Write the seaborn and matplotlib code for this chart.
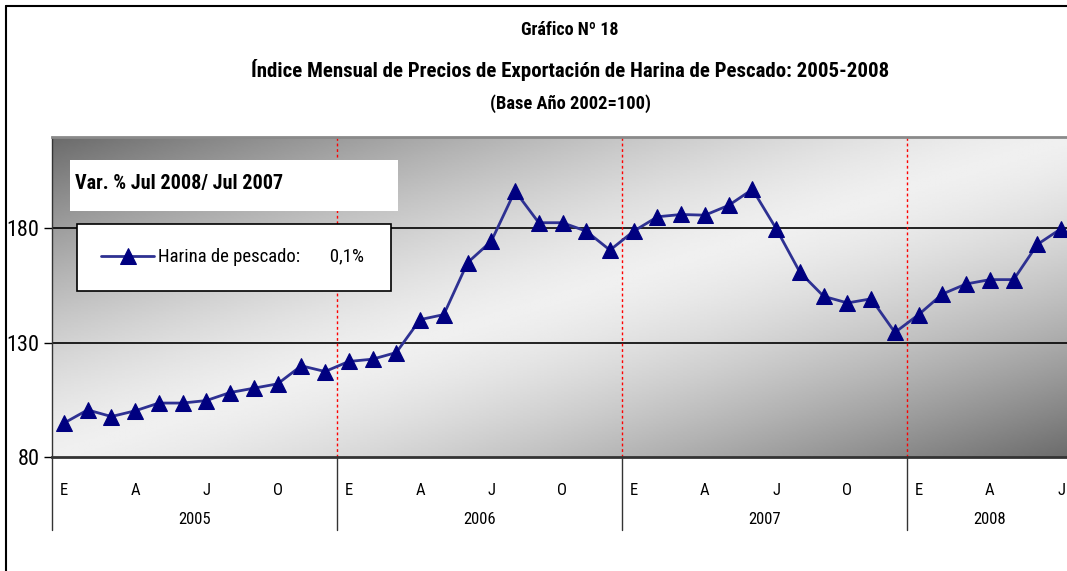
import numpy as np
import pandas as pd
import matplotlib
matplotlib.use('Agg')
import matplotlib.pyplot as plt
import matplotlib.transforms as mtransforms
from matplotlib.lines import Line2D
from matplotlib.patches import Rectangle
import seaborn as sns

# --- DATA ---
years = ['2005', '2006', '2007', '2008']
month_letters = ['E', 'A', 'J', 'O']
v2005 = [94.8, 100.6, 97.7, 100.2, 103.6, 103.6, 104.7, 108.2, 110.1, 112.0, 119.9, 117.4]
v2006 = [121.8, 122.8, 125.7, 140.1, 142.3, 165.0, 174.4, 196.4, 182.5, 182.5, 178.8, 170.5]
v2007 = [178.8, 185.1, 186.1, 185.8, 190.1, 197.1, 179.9, 160.8, 150.3, 147.4, 149.2, 134.5]
v2008 = [142.3, 151.3, 155.7, 157.6, 157.6, 173.0, 179.9]
series_name = 'Harina de pescado:'
var_text = '0,1%'

values = v2005 + v2006 + v2007 + v2008
df = pd.DataFrame({'mes': np.arange(len(values)), 'indice': values})

# --- STYLE ---
sns.set_style('white')
plt.rcParams['font.family'] = ['Roboto Condensed', 'Liberation Sans', 'DejaVu Sans']
plt.rcParams['text.color'] = 'black'
plt.rcParams['ytick.color'] = 'black'
plt.rcParams['xtick.color'] = 'black'

W, H = 1067, 571
fig = plt.figure(figsize=(W / 100, H / 100), dpi=100)

# plot area in pixels (right edge runs past the picture, as in the reference)
px_left, px_right, px_top, px_bot = 52, 1073, 137, 457
axw, axh = px_right - px_left, px_bot - px_top
ax = fig.add_axes([px_left / W, (H - px_bot) / H, axw / W, axh / H])

# gradient background: dark top-left and bottom-right, light along the other diagonal
gx, gy = np.meshgrid(np.linspace(0, 1, 300), np.linspace(0, 1, 200))
s = (gx + gy) / 2  # gy = 0 is the top row of the image
shade = 0.94 - 0.52 * (np.abs(s - 0.5) * 2) ** 1.4
ax.imshow(shade, cmap='gray', vmin=0, vmax=1, extent=[0, 1, 0, 1], transform=ax.transAxes,
          aspect='auto', zorder=0, interpolation='bilinear')

n = len(values)
ax.set_xlim(-0.5, n - 0.5)
ax.set_ylim(80, 220)

# gridlines
for yv in [130, 180]:
    ax.axhline(yv, color='black', lw=1.2, zorder=1)

# year boundaries inside plot
for b in [11.5, 23.5, 35.5]:
    ax.axvline(b, color='red', lw=1, ls=(0, (2, 2)), zorder=1)

sns.lineplot(data=df, x='mes', y='indice', ax=ax, color='#2e3192', lw=2,
             marker='^', markersize=12, markerfacecolor='#000080',
             markeredgecolor='#000080', label=series_name + '       ' + var_text, zorder=3)

# axes frame
ax.spines['right'].set_visible(False)
ax.spines['top'].set_color('#8a8a8a')
ax.spines['top'].set_linewidth(2)
ax.spines['bottom'].set_color('#333333')
ax.spines['bottom'].set_linewidth(2)
ax.spines['left'].set_color('#333333')
ax.spines['left'].set_linewidth(1)

# y axis
ax.set_yticks([80, 130, 180])
ax.tick_params(axis='y', length=6, width=1, direction='out', left=True, labelsize=16, pad=3)
ax.set_ylabel('')
ax.set_xlabel('')

# x axis: month letters under each quarter start
month_pos = [m for m in range(n) if m % 3 == 0]
ax.set_xticks(month_pos)
ax.set_xticklabels([month_letters[(m % 12) // 3] for m in month_pos], fontsize=12)
ax.tick_params(axis='x', length=0, pad=19)

# year labels and separators below the axis
trans = mtransforms.blended_transform_factory(ax.transData, ax.transAxes)
ybot = -(530 - px_bot) / axh
for i, yr in enumerate(years):
    start = i * 12
    end = min(start + 12, n)
    ax.text((start + end - 1) / 2, -(520 - px_bot) / axh, yr, transform=trans,
            ha='center', va='center', fontsize=12)
for b in [-0.5, 11.5, 23.5, 35.5]:
    ax.plot([b, b], [0, ybot], transform=trans, color='#333333', lw=1, clip_on=False)

# "Var. %" box
ax.add_patch(Rectangle(((70 - px_left) / axw, (px_bot - 211) / axh), 328 / axw, 51 / axh,
                       transform=ax.transAxes, facecolor='white', edgecolor='none', zorder=4))
ax.text((75 - px_left) / axw, (px_bot - 184) / axh, 'Var. % Jul 2008/ Jul 2007', transform=ax.transAxes,
        ha='left', va='center', fontsize=14.5, fontweight='bold', zorder=5)

# legend box
leg = ax.legend(loc='upper left',
                bbox_to_anchor=((77 - px_left) / axw, (px_bot - 290) / axh, 314 / axw, 66 / axh),
                mode='expand', frameon=True, fancybox=False, framealpha=1, fontsize=13.5,
                borderpad=1.3, handlelength=2.8, handletextpad=0.2, borderaxespad=0)
leg.get_frame().set_edgecolor('black')
leg.get_frame().set_linewidth(1.2)
leg.set_zorder(5)

# titles
fig.text(570 / W, 1 - 30 / H, 'Gráfico Nº 18', ha='center', va='center', fontsize=13, fontweight='bold')
fig.text(570 / W, 1 - 70 / H, 'Índice Mensual de Precios de Exportación de Harina de Pescado: 2005-2008',
         ha='center', va='center', fontsize=15, fontweight='bold')
fig.text(570 / W, 1 - 104 / H, '(Base Año 2002=100)', ha='center', va='center', fontsize=13.3, fontweight='bold')

# outer frame (left and top edges visible)
fig.add_artist(Line2D([6 / W, 6 / W], [0, 1 - 6 / H], color='black', lw=1.5, transform=fig.transFigure))
fig.add_artist(Line2D([6 / W, 1], [1 - 6 / H, 1 - 6 / H], color='black', lw=1.5, transform=fig.transFigure))

fig.savefig('out.png', dpi=100)
